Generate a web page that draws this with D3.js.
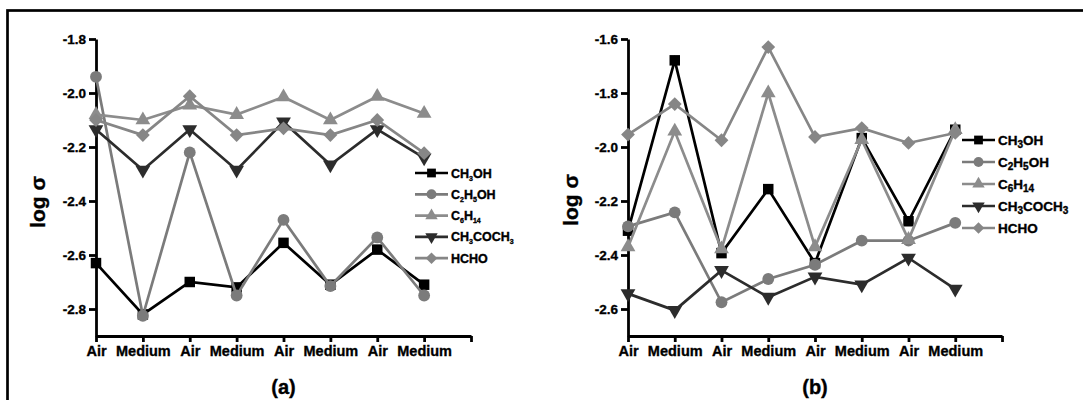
<!DOCTYPE html>
<html>
<head>
<meta charset="utf-8">
<script src="https://cdn.jsdelivr.net/npm/d3@7"></script>
<style>
body { margin: 0; background: #fff; }
text { font-family: Arial, "Liberation Sans", sans-serif; font-weight: bold; stroke: currentColor; stroke-width: 0.35px; }
</style>
</head>
<body>
<script>
const W = 1083
const H = 400

const categories = ["Air", "Medium", "Air", "Medium", "Air", "Medium", "Air", "Medium"]
const seriesNames = ["CH3OH", "C2H5OH", "C6H14", "CH3COCH3", "HCHO"]

// panel (a)
const aCH3OH    = [-2.63, -2.82, -2.70, -2.72, -2.555, -2.71, -2.58, -2.71]
const aC2H5OH   = [-1.94, -2.825, -2.22, -2.75, -2.47, -2.715, -2.535, -2.75]
const aC6H14    = [-2.08, -2.10, -2.045, -2.08, -2.015, -2.10, -2.013, -2.076]
const aCH3COCH3 = [-2.135, -2.285, -2.135, -2.285, -2.107, -2.266, -2.135, -2.24]
const aHCHO     = [-2.10, -2.156, -2.012, -2.156, -2.131, -2.156, -2.10, -2.223]
const aTicks = [-1.8, -2.0, -2.2, -2.4, -2.6, -2.8]

// panel (b)
const bCH3OH    = [-2.31, -1.679, -2.393, -2.156, -2.43, -1.967, -2.275, -1.936]
const bC2H5OH   = [-2.294, -2.242, -2.575, -2.489, -2.436, -2.347, -2.347, -2.281]
const bC6H14    = [-2.37, -1.942, -2.378, -1.80, -2.37, -1.973, -2.343, -1.936]
const bCH3COCH3 = [-2.543, -2.605, -2.457, -2.556, -2.481, -2.51, -2.411, -2.526]
const bHCHO     = [-1.954, -1.841, -1.975, -1.63, -1.963, -1.93, -1.985, -1.948]
const bTicks = [-1.6, -1.8, -2.0, -2.2, -2.4, -2.6]

const colors = ["#000000", "#7b7b7b", "#8c8c8c", "#2c2c2c", "#868686"]
const shapes = [
	{ type: d3.symbolSquare, size: 110, rot: 0 },
	{ type: d3.symbolCircle, size: 110, rot: 0 },
	{ type: d3.symbolTriangle, size: 95, rot: 0 },
	{ type: d3.symbolTriangle, size: 95, rot: 180 },
	{ type: d3.symbolSquare, size: 95, rot: 45 }
]

const svg = d3.select("body").append("svg")
	.attr("width", W)
	.attr("height", H)

// outer frame
svg.append("rect")
	.attr("x", 7.5)
	.attr("y", 10.5)
	.attr("width", 1200)
	.attr("height", 600)
	.attr("fill", "none")
	.attr("stroke", "#000")
	.attr("stroke-width", 2.7)

let drawPanel = function(opt) {
	let g = svg.append("g")

	let xScale = d3.scaleLinear()
		.domain([0, 8])
		.range([opt.left, opt.right])

	let yScale = d3.scaleLinear()
		.domain(opt.domain)
		.range([336, 39])

	let yAxis = d3.axisLeft(yScale)
		.tickValues(opt.ticks)
		.tickSize(7)
		.tickSizeOuter(0)
		.tickPadding(3)
		.tickFormat(d => d.toFixed(1))

	let xAxis = d3.axisBottom(xScale)
		.tickValues(d3.range(9))
		.tickSize(6)
		.tickSizeOuter(0)
		.tickPadding(4)
		.tickFormat(i => categories[i] || "")

	let ya = g.append("g")
		.attr("transform", "translate(" + opt.left + ",0)")
		.call(yAxis)
	ya.selectAll("text").attr("font-size", 13.5).attr("fill", "#000")

	let xa = g.append("g")
		.attr("transform", "translate(0," + 336 + ")")
		.call(xAxis)
	xa.selectAll("text").attr("font-size", 14.5).attr("fill", "#000")

	g.selectAll(".domain, .tick line")
		.attr("stroke", "#000")
		.attr("stroke-width", 2.8)

	let line = d3.line()
		.x((d, i) => xScale(i))
		.y(d => yScale(d))

	opt.series.forEach((vals, s) => {
		g.append("path")
			.datum(vals)
			.attr("d", line)
			.attr("fill", "none")
			.attr("stroke", colors[s])
			.attr("stroke-width", 2.7)
			.attr("stroke-linejoin", "miter")

		g.selectAll(".m" + s)
			.data(vals)
			.enter()
			.append("path")
			.attr("class", "m" + s)
			.attr("d", d3.symbol().type(shapes[s].type).size(shapes[s].size))
			.attr("transform", (d, i) => "translate(" + xScale(i) + "," + yScale(d) + ") rotate(" + shapes[s].rot + ")")
			.attr("fill", colors[s])
	})

	// legend
	seriesNames.forEach((name, s) => {
		let ly = opt.legY + s * opt.legStep
		let lg = g.append("g")
		lg.append("line")
			.attr("x1", opt.legX)
			.attr("x2", opt.legX + 33)
			.attr("y1", ly)
			.attr("y2", ly)
			.attr("stroke", colors[s])
			.attr("stroke-width", 2.7)
		lg.append("path")
			.attr("d", d3.symbol().type(shapes[s].type).size(shapes[s].size * 0.7))
			.attr("transform", "translate(" + (opt.legX + 16.5) + "," + ly + ") rotate(" + shapes[s].rot + ")")
			.attr("fill", colors[s])
		let t = lg.append("text")
			.attr("x", opt.legX + 36)
			.attr("y", ly + 4.5)
			.attr("font-size", opt.legFont)
		// digits as subscripts
		name.match(/[A-Z]+|[0-9]+/g).forEach(part => {
			if (/[0-9]/.test(part)) {
				t.append("tspan").attr("font-size", opt.subFont).attr("dy", 3).text(part)
			} else {
				let ts = t.append("tspan").text(part)
				if (t.selectAll("tspan").size() > 1) ts.attr("dy", -3)
			}
		})
	})

	g.append("text")
		.attr("transform", "translate(" + opt.titleX + "," + opt.titleY + ") rotate(-90)")
		.attr("text-anchor", "middle")
		.attr("dominant-baseline", "central")
		.attr("font-size", 21)
		.text("log σ")

	g.append("text")
		.attr("x", (opt.left + opt.right) / 2)
		.attr("y", 394)
		.attr("text-anchor", "middle")
		.attr("font-size", 20)
		.text(opt.label)
}

drawPanel({
	left: 96, right: 471,
	domain: [-2.9, -1.8],
	ticks: aTicks,
	series: [aCH3OH, aC2H5OH, aC6H14, aCH3COCH3, aHCHO],
	legX: 415, legY: 173, legStep: 21.3, legFont: 12.5, subFont: 7,
	titleX: 37, titleY: 202,
	label: "(a)"
})

drawPanel({
	left: 628, right: 1002,
	domain: [-2.7, -1.6],
	ticks: bTicks,
	series: [bCH3OH, bC2H5OH, bC6H14, bCH3COCH3, bHCHO],
	legX: 962, legY: 140, legStep: 22, legFont: 13.5, subFont: 10,
	titleX: 570, titleY: 200,
	label: "(b)"
})
</script>
</body>
</html>
